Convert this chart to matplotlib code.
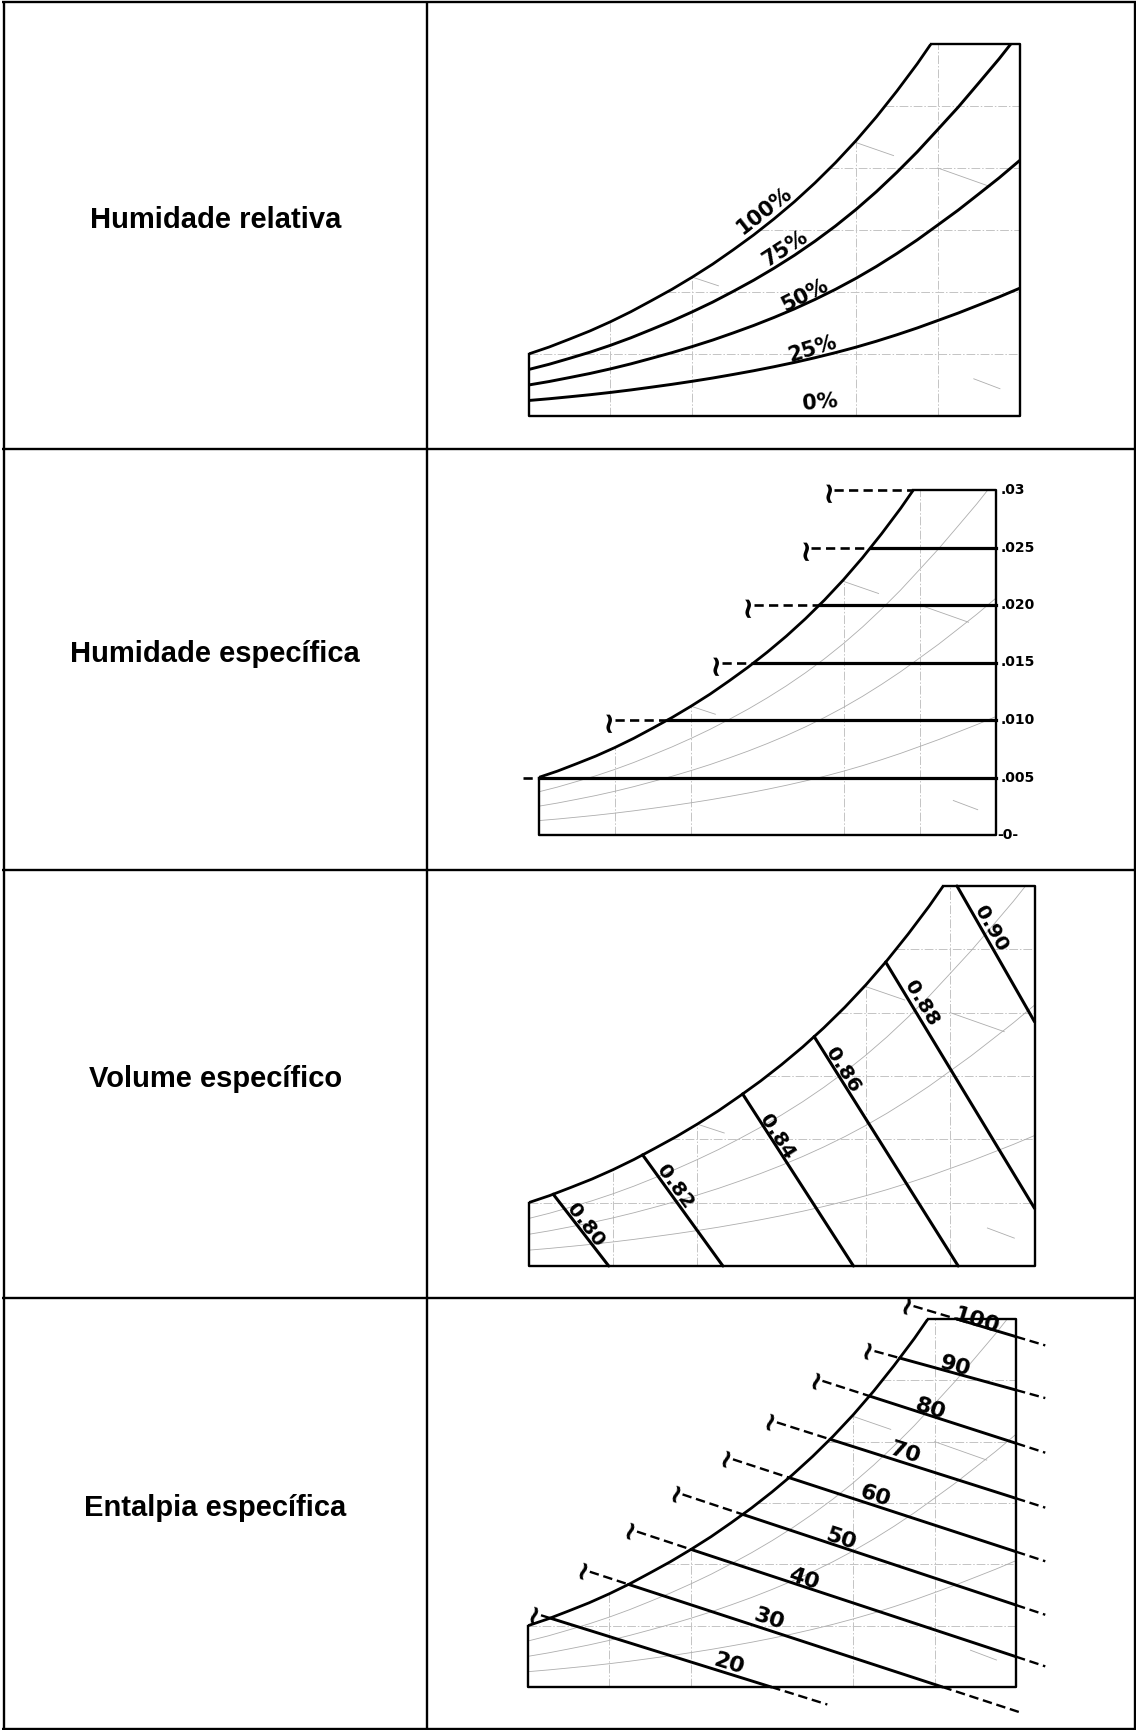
import numpy as np
import matplotlib.pyplot as plt

FIG_W, FIG_H = 1136, 1730
DPI = 100

T_MIN, T_MAX = 5.0, 35.0
W_MIN, W_MAX = 0.0, 0.03

row_labels = ["Humidade relativa", "Humidade específica",
              "Volume específico", "Entalpia específica"]

# saturation curve traced from the sketches: dry bulb (°C) vs humidity ratio (kg/kg)
sat_t = [5.0, 6.25, 7.5, 8.75, 10.0, 11.25, 12.5, 13.75, 15.0, 16.25, 17.5, 18.75, 20.0,
         21.25, 22.5, 23.75, 25.0, 26.25, 27.5, 28.75, 30.0, 31.25, 32.5, 33.75, 35.0]
sat_w = [0.00500, 0.00556, 0.00620, 0.00686, 0.00760, 0.00841, 0.00930, 0.01021, 0.01120,
         0.01225, 0.01340, 0.01460, 0.01590, 0.01729, 0.01880, 0.02043, 0.02220, 0.02412,
         0.02620, 0.02841, 0.03080, 0.03321, 0.03580, 0.03841, 0.04120]

# background grid of the sketches
grid_t = [10, 15, 25, 30]
grid_w = [0.005, 0.010, 0.015, 0.020, 0.025]
faint_rh = [0.25, 0.5, 0.75]
wb_t0 = [15.0, 24.9, 30.0, 32.2]
wb_w0 = [0.0112, 0.0221, 0.0200, 0.0030]
wb_t1 = [16.6, 27.3, 33.2, 33.8]
wb_w1 = [0.0105, 0.0210, 0.0185, 0.0022]

# relative humidity
rh_values = [0.75, 0.5, 0.25]
rh_labels = ["100%", "75%", "50%", "25%", "0%"]
rh_label_t = [19.4, 20.7, 21.9, 22.35, 22.8]
rh_label_w = [0.0166, 0.0135, 0.0097, 0.0054, 0.0011]
rh_label_rot = [38, 33, 27, 17, 5]

# specific humidity
w_values = [0.0, 0.005, 0.010, 0.015, 0.020, 0.025, 0.030]
w_labels = ["-0-", ".005", ".010", ".015", ".020", ".025", ".03"]
w_break_t = [None, 3.6, 9.6, 16.6, 18.7, 22.5, 24.0]

# specific volume (m3/kg)
v_labels = ["0.80", "0.82", "0.84", "0.86", "0.88", "0.90"]
v_start_t = [6.46, 11.76, 17.69, 21.93, 26.17, 30.4]
v_end_t = [9.75, 16.52, 24.26, 30.47, 35.0, 35.0]
v_end_w = [0.0, 0.0, 0.0, 0.0, 0.00455, 0.01928]
v_label_t = [8.37, 13.66, 19.70, 23.62, 28.28, 32.41]
v_label_w = [0.00323, 0.00626, 0.0102, 0.01547, 0.02073, 0.02665]

# specific enthalpy (kJ/kg)
h_labels = ["20", "30", "40", "50", "60", "70", "80", "90", "100"]
h_start_t = [6.36, 11.18, 15.02, 18.20, 21.05, 23.57, 25.99, 27.85, 31.36]
h_end_t = [19.95, 30.48, 35, 35, 35, 35, 35, 35, 35]
h_end_w = [0.0, 0.0, 0.00247, 0.00668, 0.01103, 0.01538, 0.01987, 0.02421, 0.02856]
h_break_t = [5.4, 8.4, 11.3, 14.1, 17.2, 19.9, 22.7, 25.9, 28.3]
h_tail_t = [23.4, 35.3, 36.8, 36.8, 36.8, 36.8, 36.8, 36.8, 36.8]
h_label_t = [17.32, 19.85, 21.93, 24.23, 26.32, 28.18, 29.72, 31.25, 32.57]
h_label_w = [0.00185, 0.00552, 0.00878, 0.01204, 0.01557, 0.01911, 0.02264, 0.02617, 0.02984]

# page layout in pixels
col_x = [3.7, 426.8, 1134.8]
row_y = [2.2, 448.8, 869.8, 1297.8, 1728.8]
panel_boxes = [(528.6, 44, 1019.6, 416), (538.5, 490, 996, 835),
               (528.6, 886, 1034.6, 1266), (528, 1319, 1016, 1687)]

GRID = dict(color="#c4c4c4", lw=0.7, ls=(0, (9, 2, 1.5, 2)))
FAINT = dict(color="#adadad", lw=0.6)
LABEL = dict(fontweight="bold", family="DejaVu Sans",
             ha="center", va="center", rotation_mode="anchor")
THICK = dict(color="black", solid_joinstyle="round", solid_capstyle="round")
DASH = dict(color="black", lw=1.7, ls=(0, (4, 2)), clip_on=False)


def sat(t):
    return np.interp(t, sat_t, sat_w)


def add_sketch(fig, box):
    x0, y0, x1, y1 = box
    ax = fig.add_axes([x0 / FIG_W, 1 - y1 / FIG_H, (x1 - x0) / FIG_W, (y1 - y0) / FIG_H])
    ax.set_xlim(T_MIN, T_MAX)
    ax.set_ylim(W_MIN, W_MAX)
    ax.axis("off")
    return ax


def screen_angle(ax, t0, w0, t1, w1):
    p0 = ax.transData.transform((t0, w0))
    p1 = ax.transData.transform((t1, w1))
    return np.degrees(np.arctan2(p1[1] - p0[1], p1[0] - p0[0]))


def draw_background(ax, curves=True):
    for t in grid_t:
        ax.plot([t, t], [0, min(sat(t), W_MAX)], **GRID)
    for w in grid_w:
        ax.plot([np.interp(w, sat_w, sat_t), T_MAX], [w, w], **GRID)
    if curves:
        for f in faint_rh:
            ax.plot(sat_t, f * np.array(sat_w), **FAINT)
    for a, b, c, d in zip(wb_t0, wb_w0, wb_t1, wb_w1):
        ax.plot([a, c], [b, d], **FAINT)


def draw_frame(ax):
    t_top = np.interp(W_MAX, sat_w, sat_t)
    ax.plot([T_MIN, T_MIN, T_MAX, T_MAX, t_top], [sat_w[0], 0, 0, W_MAX, W_MAX],
            color="black", lw=1.7, clip_on=False)
    ax.plot(sat_t, sat_w, lw=2.0, **THICK)


def tilde(ax, t, w, rot, size):
    ax.text(t, w, "~", rotation=rot, fontsize=size, fontweight="bold", ha="center",
            va="center", rotation_mode="anchor", family="DejaVu Sans")


fig = plt.figure(figsize=(FIG_W / DPI, FIG_H / DPI), dpi=DPI)

# table
bg = fig.add_axes([0, 0, 1, 1])
bg.set_xlim(0, FIG_W)
bg.set_ylim(FIG_H, 0)
bg.axis("off")
bg.hlines(row_y, col_x[0] - 1.5, col_x[-1] + 1.5, color="black", lw=1.7)
bg.vlines(col_x, row_y[0] - 1, row_y[-1] + 1, color="black", lw=1.7)
for i, lab in enumerate(row_labels):
    yc = (row_y[i] + row_y[i + 1]) / 2
    bg.text((col_x[0] + col_x[1]) / 2, yc + 3, lab, ha="center", va="baseline",
            fontsize=21, fontweight="bold", family="Liberation Sans")

# 1 - relative humidity
ax = add_sketch(fig, panel_boxes[0])
draw_background(ax, curves=False)
draw_frame(ax)
for f in rh_values:
    ax.plot(sat_t, f * np.array(sat_w), lw=2.1, **THICK)
for lab, t, w, r in zip(rh_labels, rh_label_t, rh_label_w, rh_label_rot):
    ax.text(t, w, lab, rotation=r, fontsize=15, **LABEL)

# 2 - specific humidity
ax = add_sketch(fig, panel_boxes[1])
draw_background(ax)
draw_frame(ax)
for w, lab, brk in zip(w_values, w_labels, w_break_t):
    ax.annotate(lab, (T_MAX, w), xytext=(1 if w == 0 else 3, 0), textcoords="offset points",
                ha="left", va="center", fontsize=10, fontweight="bold", annotation_clip=False)
    if brk is None:
        continue
    t_dew = np.interp(w, sat_w, sat_t)
    if w < W_MAX:
        ax.plot([t_dew, T_MAX], [w, w], color="black", lw=2.3, clip_on=False)
    ax.plot([brk + 0.4, t_dew], [w, w], color="black", lw=1.9, ls=(0, (3.5, 2)), clip_on=False)
    if w > sat_w[0]:
        tilde(ax, brk, w, 90, 21)

# 3 - specific volume
ax = add_sketch(fig, panel_boxes[2])
draw_background(ax)
draw_frame(ax)
for lab, ts, te, we, tl, wl in zip(v_labels, v_start_t, v_end_t, v_end_w, v_label_t, v_label_w):
    ws = min(sat(ts), W_MAX)
    ax.plot([ts, te], [ws, we], lw=2.2, clip_on=False, **THICK)
    ax.text(tl, wl, lab, rotation=screen_angle(ax, ts, ws, te, we), fontsize=14.5, **LABEL)

# 4 - specific enthalpy
ax = add_sketch(fig, panel_boxes[3])
draw_background(ax)
draw_frame(ax)
for lab, ts, te, we, tb, tt, tl, wl in zip(h_labels, h_start_t, h_end_t, h_end_w,
                                           h_break_t, h_tail_t, h_label_t, h_label_w):
    ws = min(sat(ts), W_MAX)
    slope = (we - ws) / (te - ts)
    wb = ws + (tb - ts) * slope
    wt = ws + (tt - ts) * slope
    ang = screen_angle(ax, ts, ws, te, we)
    ax.plot([ts, te], [ws, we], lw=2.1, clip_on=False, **THICK)
    ax.plot([tb + 0.4, ts], [wb + 0.4 * slope, ws], **DASH)
    ax.plot([te, tt], [we, wt], **DASH)
    tilde(ax, tb, wb, ang + 90, 19)
    ax.text(tl, wl, lab, rotation=ang, fontsize=16, **LABEL)

fig.savefig("out.png", dpi=DPI)
